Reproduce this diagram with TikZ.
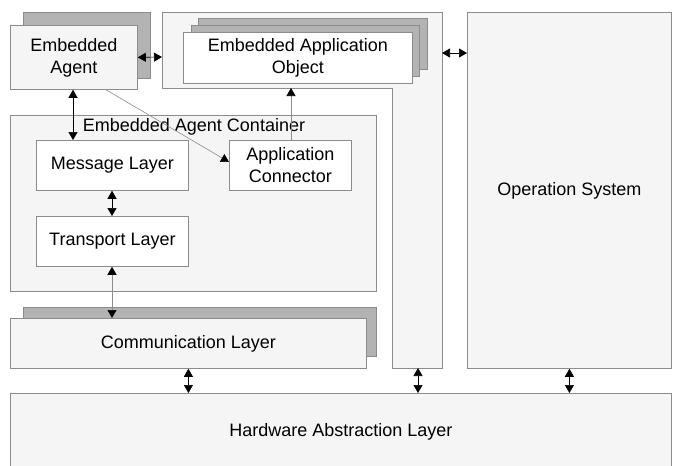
\documentclass[tikz,border=0pt]{standalone}
\usepackage{fontspec}
\setmainfont{Liberation Sans}
\usetikzlibrary{arrows.meta}
\definecolor{panel}{HTML}{F4F5F4}
\definecolor{edge}{HTML}{8C8C8C}
\definecolor{shade}{HTML}{B3B3B3}
\tikzset{
  labelfont/.style={font=\fontsize{18}{22}\selectfont},
  box/.style={draw=edge, fill=panel, line width=0.8pt, inner sep=0pt,
    anchor=north west, align=center, labelfont},
  whitebox/.style={box, fill=white},
  shadowbox/.style={box, fill=shade},
  dbl/.style={{Triangle[length=8pt,width=9pt,black]}-{Triangle[length=8pt,width=9pt,black]}, line width=0.6pt, black},
  thinlink/.style={draw=edge, line width=0.6pt},
  onetip/.style={thinlink, -{Triangle[length=8pt,width=9pt,black]}},
  twotips/.style={thinlink, {Triangle[length=8pt,width=9pt,black]}-{Triangle[length=8pt,width=9pt,black]}},
}
\begin{document}
\begin{tikzpicture}[x=1pt,y=-1pt]
\useasboundingbox (0,0) rectangle (673,466);
\clip (0,0) rectangle (673,466);

% agent with its shadow copy
\node[shadowbox, minimum width=127pt, minimum height=66pt] (agentback) at (23,12) {};
\node[box, minimum width=127pt, minimum height=64pt] (agent) at (10,25) {Embedded\\Agent};

% application area (L-shaped panel)
\draw[draw=edge, fill=panel, line width=0.8pt]
  (162,12) -- (442,12) -- (442,368) -- (392,368) -- (392,88) -- (162,88) -- cycle;
\coordinate (appleft) at (162,57);
\coordinate (appright) at (442,53);
\coordinate (appbottom) at (291,88);
\coordinate (appfoot) at (418,368);

% stacked application objects
\node[shadowbox, minimum width=229pt, minimum height=51pt] (eaoback) at (198,18) {};
\node[shadowbox, minimum width=228pt, minimum height=51pt] (eaomid) at (191,25) {};
\node[whitebox, minimum width=229pt, minimum height=51pt] (eao) at (183,32) {Embedded Application\\Object};

% operating system
\node[box, minimum width=204pt, minimum height=356pt] (os) at (467,12) {Operation System};

% agent container
\node[box, minimum width=366pt, minimum height=176pt] (container) at (10,115) {};
\node[labelfont, inner sep=0pt] (containerlabel) at (194,127) {Embedded Agent Container};
\node[whitebox, minimum width=152pt, minimum height=50pt] (msg) at (36,140) {Message Layer};
\node[whitebox, minimum width=122pt, minimum height=50pt] (conn) at (229,140) {Application\\Connector};
\node[whitebox, minimum width=152pt, minimum height=50pt] (trans) at (36,216) {Transport Layer};

% communication layer with shadow copy
\node[shadowbox, minimum width=353pt, minimum height=49pt] (commback) at (23,307) {};
\node[box, minimum width=356pt, minimum height=50pt] (comm) at (10,318) {Communication Layer};

% hardware abstraction layer
\node[box, minimum width=661pt, minimum height=76pt] (hal) at (10,393) {Hardware Abstraction Layer};

% helper x positions
\coordinate (xa) at (73,0);
\coordinate (xd) at (106,0);
\coordinate (yd) at (0,162);
\coordinate (xm) at (112,0);

% connectors
\draw[dbl] (agent.east) -- (appleft);
\draw[dbl] (appright) -- (appright -| os.west);
\draw[dbl] (agent.south -| xa) -- (msg.north -| xa);
\draw[onetip] (agent.south -| xd) -- (conn.west |- yd);
\draw[onetip] (conn.north -| appbottom) -- (appbottom);
\draw[dbl] (msg.south -| xm) -- (trans.north -| xm);
\draw[twotips] (trans.south -| xm) -- (comm.north -| xm);
\draw[dbl] (comm.south) -- (comm.south |- hal.north);
\draw[dbl] (appfoot) -- (appfoot |- hal.north);
\draw[dbl] (os.south) -- (os.south |- hal.north);
\end{tikzpicture}
\end{document}
